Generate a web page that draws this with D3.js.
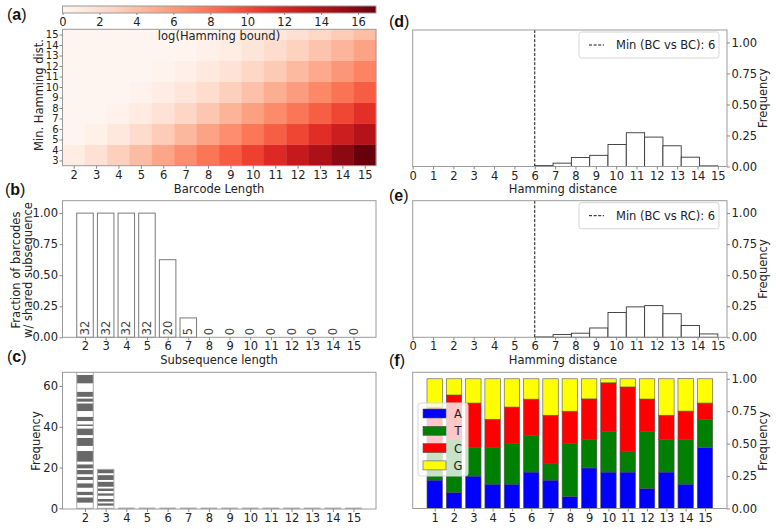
<!DOCTYPE html>
<html><head><meta charset="utf-8">
<script src="https://cdn.jsdelivr.net/npm/d3@7"></script>
<style>
body{margin:0;background:#fff;}
svg{display:block;font-family:"DejaVu Sans",sans-serif;}
</style></head><body>
<script>
// ---------- DATA ----------
// (a) heatmap: log(Hamming bound) per barcode length, rows grouped by min Hamming distance
const barcodeLengths = [2,3,4,5,6,7,8,9,10,11,12,13,14,15];
const minDistances = [3,4,5,6,7,8,9,10,11,12,13,14,15];
const distGroups = [[3,4],[5,6],[7,8],[9,10],[11,12],[13,14],[15]];
const logHB_d3_4   = [0.83,1.86,2.98,4.16,5.37,6.61,7.87,9.14,10.43,11.72,13.03,14.33,15.65,16.97];
const logHB_d5_6   = [0,0.55,1.34,2.27,3.28,4.35,5.47,6.61,7.79,8.98,10.19,11.41,12.65,13.90];
const logHB_d7_8   = [0,0,0.38,1.00,1.78,2.65,3.60,4.61,5.65,6.74,7.85,8.98,10.13,11.30];
const logHB_d9_10  = [0,0,0,0.27,0.76,1.41,2.17,3.02,3.93,4.89,5.89,6.92,7.98,9.07];
const logHB_d11_12 = [0,0,0,0,0.20,0.59,1.14,1.80,2.55,3.37,4.25,5.18,6.14,7.14];
const logHB_d13_14 = [0,0,0,0,0,0.14,0.46,0.92,1.50,2.17,2.91,3.72,4.58,5.47];
const logHB_d15    = [0,0,0,0,0,0,0.11,0.36,0.75,1.25,1.85,2.52,3.26,4.06];
const logHBRows = [logHB_d3_4,logHB_d5_6,logHB_d7_8,logHB_d9_10,logHB_d11_12,logHB_d13_14,logHB_d15];
const colorbarMax = 16.97;
const colorbarTicks = [0,2,4,6,8,10,12,14,16];

// (b) fraction of barcodes with shared subsequence
const subseqLengths = [2,3,4,5,6,7,8,9,10,11,12,13,14,15];
const fractionShared = [1,1,1,1,0.625,0.156,0,0,0,0,0,0,0,0];
const sharedCounts = [32,32,32,32,20,5,0,0,0,0,0,0,0,0];
const fracTicks = [0,0.25,0.5,0.75,1.0];

// (c) stacked frequency segments (bottom to top)
const stripesLen2 = [2.8,2.6,1.1,1.7,1.9,2.2,1.6,1.6,1.2,2.1,0.8,2.0,1.3,5.2,2.5,4.0,1.3,3.3,1.2,0.8,1.6,2.1,2.8,3.8,0.8,1.6,0.8,2.5,4.1,4.1,1.6];
const stripesLen3 = [1.3,1.2,0.8,1.3,1.6,1.2,1.1,1.3,0.8,2.5,0.8,2.4,0.9,1.9];
const freqTicksC = [0,20,40,60];

// (d),(e) Hamming distance histograms
const hdBinEdges = [6,6.9,7.8,8.7,9.6,10.5,11.4,12.3,13.2,14.1,15];
const freqBCvsBC = [0.007,0.027,0.072,0.09,0.177,0.272,0.237,0.167,0.075,0.005];
const freqBCvsRC = [0.003,0.022,0.033,0.075,0.2,0.245,0.255,0.19,0.095,0.027];
const minBCvsBC = 6, minBCvsRC = 6;
const hdTicks = [0,1,2,3,4,5,6,7,8,9,10,11,12,13,14,15];

// (f) base composition per position
const positions = [1,2,3,4,5,6,7,8,9,10,11,12,13,14,15];
const fracA = [0.219,0.125,0.25,0.188,0.188,0.281,0.219,0.094,0.313,0.281,0.281,0.156,0.281,0.188,0.469];
const fracT = [0.281,0.406,0.219,0.281,0.313,0.281,0.125,0.406,0.219,0.313,0.156,0.438,0.25,0.344,0.219];
const fracC = [0.281,0.344,0.344,0.219,0.281,0.281,0.375,0.25,0.313,0.375,0.5,0.25,0.188,0.219,0.125];
const fracG = [0.219,0.125,0.187,0.312,0.218,0.157,0.281,0.25,0.155,0.031,0.063,0.156,0.281,0.25,0.187];
const bases = ["A","T","C","G"];
const baseColors = ["#0000ff","#008000","#ff0000","#ffff00"];

// ---------- DRAW ----------
const W = 776, H = 529;
const FONT = "DejaVu Sans";
const TXT = "#222";
const svg = d3.select("body").append("svg").attr("width", W).attr("height", H);

function styleAxis(g, size){
  g.attr("font-family", FONT).attr("font-size", size || 11.5);
  g.select(".domain").remove();
  g.selectAll(".tick text").attr("fill", TXT);
  g.selectAll(".tick line").attr("stroke", "#888");
}
function spine(x0, y0, x1, y1){
  svg.append("rect").attr("x", x0).attr("y", y0).attr("width", x1 - x0).attr("height", y1 - y0)
    .attr("fill", "none").attr("stroke", "#9a9a9a").attr("stroke-width", 1);
}
function label(text, x, y, opts = {}){
  const t = svg.append("text").attr("x", x).attr("y", y).text(text)
    .attr("font-family", FONT).attr("font-size", opts.size || 11.5).attr("fill", TXT)
    .attr("text-anchor", opts.anchor || "middle");
  if (opts.rotate) t.attr("transform", `rotate(${opts.rotate},${x},${y})`);
  return t;
}
function panelLetter(letter, x, y){
  const t = svg.append("text").attr("x", x).attr("y", y)
    .attr("font-family", "Liberation Sans, Arial, sans-serif").attr("font-size", 16).attr("fill", "#111");
  t.append("tspan").text("(");
  t.append("tspan").text(letter).attr("font-weight", "bold");
  t.append("tspan").text(")");
}

// ===== (a) heatmap =====
{
  const L = 62.5, R = 376, T = 29.3, B = 165.7;
  const x = d3.scaleLinear().domain([1.5, 15.5]).range([L, R]);
  const y = d3.scaleLinear().domain([2.5, 15.5]).range([B, T]);
  const color = d3.scaleSequential(d3.interpolateReds).domain([0, colorbarMax]);

  distGroups.forEach((grp, gi) => {
    const dMin = d3.min(grp), dMax = d3.max(grp);
    svg.append("g").selectAll("rect").data(barcodeLengths).join("rect")
      .attr("x", n => x(n - 0.5)).attr("width", n => x(n + 0.5) - x(n - 0.5))
      .attr("y", y(dMax + 0.5)).attr("height", y(dMin - 0.5) - y(dMax + 0.5))
      .attr("fill", (n, i) => color(logHBRows[gi][i]))
      .attr("stroke", (n, i) => color(logHBRows[gi][i])).attr("stroke-width", 0.4);
  });
  spine(L, T, R, B);

  svg.append("g").attr("transform", `translate(0,${B})`)
    .call(d3.axisBottom(x).tickValues(barcodeLengths).tickFormat(d3.format("d")).tickSize(3).tickPadding(2))
    .call(g => styleAxis(g));
  svg.append("g").attr("transform", `translate(${L},0)`)
    .call(d3.axisLeft(y).tickValues(minDistances).tickFormat(d3.format("d")).tickSize(3).tickPadding(1))
    .call(g => styleAxis(g, 10));

  // colorbar
  const cb = d3.scaleLinear().domain([0, colorbarMax]).range([L, R]);
  const grad = svg.append("defs").append("linearGradient").attr("id", "cbgrad");
  d3.range(0, 1.0001, 0.05).forEach(t => grad.append("stop").attr("offset", t).attr("stop-color", d3.interpolateReds(t)));
  svg.append("rect").attr("x", L).attr("y", 6).attr("width", R - L).attr("height", 7)
    .attr("fill", "url(#cbgrad)").attr("stroke", "#9a9a9a");
  svg.append("g").attr("transform", "translate(0,13)")
    .call(d3.axisBottom(cb).tickValues(colorbarTicks).tickFormat(d3.format("d")).tickSize(2).tickPadding(3))
    .call(g => styleAxis(g));
  label("log(Hamming bound)", 219, 39.5);
  label("Barcode Length", 219, 192.5);
  label("Min. Hamming dist.", 43, 95, {rotate: -90});
  panelLetter("a", 7, 20);
}

// ===== (b) fraction bars =====
{
  const L = 62.5, R = 376, T = 200.7, B = 337.3;
  const x = d3.scaleLinear().domain([0.91, 16.09]).range([L, R]);
  const y = d3.scaleLinear().domain([0, 1.1]).range([B, T]);
  svg.append("g").selectAll("rect").data(subseqLengths).join("rect")
    .attr("x", d => x(d - 0.4)).attr("width", d => x(d + 0.4) - x(d - 0.4))
    .attr("y", (d, i) => y(fractionShared[i])).attr("height", (d, i) => y(0) - y(fractionShared[i]))
    .attr("fill", "#fff").attr("stroke", "#7a7a7a").attr("stroke-width", 1);
  svg.append("g").selectAll("text").data(subseqLengths).join("text")
    .attr("transform", d => `translate(${x(d)},${y(0) - 2}) rotate(-90)`)
    .attr("dy", "0.35em").attr("text-anchor", "start")
    .attr("font-family", FONT).attr("font-size", 11.5).attr("fill", "#444")
    .text((d, i) => sharedCounts[i]);
  spine(L, T, R, B);
  svg.append("g").attr("transform", `translate(0,${B})`)
    .call(d3.axisBottom(x).tickValues(subseqLengths).tickFormat(d3.format("d")).tickSize(3).tickPadding(2))
    .call(g => styleAxis(g));
  svg.append("g").attr("transform", `translate(${L},0)`)
    .call(d3.axisLeft(y).tickValues(fracTicks).tickFormat(d3.format(".2f")).tickSize(3).tickPadding(1.5))
    .call(g => styleAxis(g));
  label("Subsequence length", 219, 363.5);
  const yl = svg.append("text").attr("font-family", FONT).attr("font-size", 11.5).attr("fill", TXT)
    .attr("text-anchor", "middle").attr("transform", "translate(19.5,270) rotate(-90)");
  yl.append("tspan").attr("x", 0).attr("y", 0).text("Fraction of barcodes");
  yl.append("tspan").attr("x", 0).attr("y", 12.5).text("w/ shared subsequence");
  panelLetter("b", 5, 195);
}

// ===== (c) stacked stripes =====
{
  const L = 62.5, R = 376, T = 372.3, B = 509;
  const x = d3.scaleLinear().domain([0.91, 16.09]).range([L, R]);
  const y = d3.scaleLinear().domain([-0.33, 66.7]).range([B, T]);
  svg.append("defs").append("clipPath").attr("id", "clipC")
    .append("rect").attr("x", L).attr("y", T).attr("width", R - L).attr("height", B - T);
  const gc = svg.append("g").attr("clip-path", "url(#clipC)");
  const stacks = [[2, stripesLen2], [3, stripesLen3]];
  stacks.forEach(([len, segs]) => {
    let acc = 0;
    const rows = segs.map(s => { const r = {y0: acc, y1: acc + s}; acc += s; return r; });
    gc.append("g").selectAll("rect").data(rows).join("rect")
      .attr("x", x(len - 0.4)).attr("width", x(len + 0.4) - x(len - 0.4))
      .attr("y", r => y(r.y1)).attr("height", r => y(r.y0) - y(r.y1))
      .attr("fill", (r, i) => i % 2 ? "#686868" : "#fff");
    gc.append("rect").attr("x", x(len - 0.4)).attr("width", x(len + 0.4) - x(len - 0.4))
      .attr("y", y(acc)).attr("height", y(0) - y(acc))
      .attr("fill", "none").attr("stroke", "#aaa").attr("stroke-width", 1);
  });
  const zeroLens = subseqLengths.filter(l => l > 3);
  svg.append("g").selectAll("line").data(zeroLens).join("line")
    .attr("x1", d => x(d - 0.4)).attr("x2", d => x(d + 0.4))
    .attr("y1", y(0)).attr("y2", y(0)).attr("stroke", "#aaa").attr("stroke-width", 1.5);
  spine(L, T, R, B);
  svg.append("g").attr("transform", `translate(0,${B})`)
    .call(d3.axisBottom(x).tickValues(subseqLengths).tickFormat(d3.format("d")).tickSize(3).tickPadding(2))
    .call(g => styleAxis(g));
  svg.append("g").attr("transform", `translate(${L},0)`)
    .call(d3.axisLeft(y).tickValues(freqTicksC).tickFormat(d3.format("d")).tickSize(3).tickPadding(1.5))
    .call(g => styleAxis(g));
  label("Frequency", 40, 441, {rotate: -90});
  panelLetter("c", 7, 362);
}

// ===== (d),(e) histograms =====
function histPanel(T, B, freqs, minVal, legendText, letter, letterY, xlabelY){
  const L = 412.7, R = 727;
  const x = d3.scaleLinear().domain([0, 15.45]).range([L, R]);
  const y = d3.scaleLinear().domain([0, 1.1]).range([B, T]);
  const bins = freqs.map((f, i) => ({x0: hdBinEdges[i], x1: hdBinEdges[i + 1], f}));
  svg.append("g").selectAll("rect").data(bins).join("rect")
    .attr("x", b => x(b.x0)).attr("width", b => x(b.x1) - x(b.x0))
    .attr("y", b => y(b.f)).attr("height", b => y(0) - y(b.f))
    .attr("fill", "#fff").attr("stroke", "#333").attr("stroke-width", 0.9);
  svg.append("line").attr("x1", x(minVal)).attr("x2", x(minVal)).attr("y1", T).attr("y2", B)
    .attr("stroke", "#111").attr("stroke-width", 1).attr("stroke-dasharray", "3,1.6");
  spine(L, T, R, B);
  svg.append("g").attr("transform", `translate(0,${B})`)
    .call(d3.axisBottom(x).tickValues(hdTicks).tickFormat(d3.format("d")).tickSize(3).tickPadding(2))
    .call(g => styleAxis(g));
  svg.append("g").attr("transform", `translate(${R},0)`)
    .call(d3.axisRight(y).tickValues(fracTicks).tickFormat(d3.format(".2f")).tickSize(3).tickPadding(1.5))
    .call(g => styleAxis(g));
  // legend
  const lx = 579, ly = T + 2;
  svg.append("rect").attr("x", lx).attr("y", ly).attr("width", 140).attr("height", 26)
    .attr("rx", 2.5).attr("fill", "#fff").attr("fill-opacity", 0.8).attr("stroke", "#d5d5d5");
  svg.append("line").attr("x1", lx + 10).attr("x2", lx + 25).attr("y1", ly + 13).attr("y2", ly + 13)
    .attr("stroke", "#111").attr("stroke-width", 1).attr("stroke-dasharray", "3,1.6");
  label(legendText, lx + 37, ly + 17, {anchor: "start"});
  label("Hamming distance", 563, xlabelY);
  label("Frequency", 767, (T + B) / 2, {rotate: -90});
  panelLetter(letter, 389, letterY);
}
histPanel(30, 166.5, freqBCvsBC, minBCvsBC, "Min (BC vs BC): " + minBCvsBC, "d", 27, 193);
histPanel(200.7, 337.3, freqBCvsRC, minBCvsRC, "Min (BC vs RC): " + minBCvsRC, "e", 201, 363.5);

// ===== (f) stacked base composition =====
{
  const L = 412.7, R = 727, T = 372.3, B = 508.5;
  const x = d3.scaleLinear().domain([-0.14, 16.14]).range([L, R]);
  const y = d3.scaleLinear().domain([0, 1.05]).range([B, T]);
  const table = positions.map((p, i) => ({pos: p, A: fracA[i], T: fracT[i], C: fracC[i], G: fracG[i]}));
  const stacked = d3.stack().keys(bases)(table);
  stacked.forEach((layer, k) => {
    svg.append("g").selectAll("rect").data(layer).join("rect")
      .attr("x", d => x(d.data.pos - 0.4)).attr("width", d => x(d.data.pos + 0.4) - x(d.data.pos - 0.4))
      .attr("y", d => y(d[1])).attr("height", d => y(d[0]) - y(d[1]))
      .attr("fill", baseColors[k]).attr("stroke", "#555").attr("stroke-width", 0.6);
  });
  spine(L, T, R, B);
  svg.append("g").attr("transform", `translate(0,${B})`)
    .call(d3.axisBottom(x).tickValues(positions).tickFormat(d3.format("d")).tickSize(3).tickPadding(2))
    .call(g => styleAxis(g));
  svg.append("g").attr("transform", `translate(${R},0)`)
    .call(d3.axisRight(y).tickValues(fracTicks).tickFormat(d3.format(".2f")).tickSize(3).tickPadding(1.5))
    .call(g => styleAxis(g));
  // legend
  const lx = 418, ly = 403;
  svg.append("rect").attr("x", lx).attr("y", ly).attr("width", 50).attr("height", 73)
    .attr("rx", 2.5).attr("fill", "#fff").attr("fill-opacity", 0.78).attr("stroke", "#d5d5d5");
  bases.forEach((b, k) => {
    const yy = ly + 6 + k * 17.3;
    svg.append("rect").attr("x", lx + 5).attr("y", yy).attr("width", 23).attr("height", 9)
      .attr("fill", baseColors[k]).attr("stroke", "#555").attr("stroke-width", 0.6);
    label(b, lx + 40, yy + 9, {});
  });
  label("Frequency", 767, 441, {rotate: -90});
  panelLetter("f", 389, 366);
}
</script></body></html>
